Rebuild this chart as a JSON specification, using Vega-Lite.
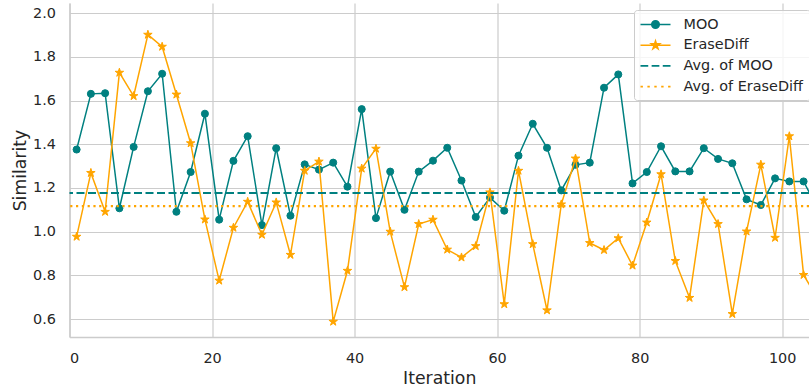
{
  "$schema": "https://vega.github.io/schema/vega-lite/v6.json",
  "width": 739.5,
  "height": 334,
  "autosize": {"type": "none"},
  "padding": {"left": 69.5, "top": 3, "right": 0, "bottom": 52},
  "background": "white",
  "datasets": {
    "main": [
      {"it": 1, "moo": 1.376, "ed": 0.977},
      {"it": 3, "moo": 1.631, "ed": 1.269},
      {"it": 5, "moo": 1.634, "ed": 1.091},
      {"it": 7, "moo": 1.107, "ed": 1.728},
      {"it": 9, "moo": 1.388, "ed": 1.621},
      {"it": 11, "moo": 1.643, "ed": 1.902},
      {"it": 13, "moo": 1.723, "ed": 1.847},
      {"it": 15, "moo": 1.091, "ed": 1.628},
      {"it": 17, "moo": 1.273, "ed": 1.405},
      {"it": 19, "moo": 1.540, "ed": 1.056},
      {"it": 21, "moo": 1.055, "ed": 0.776},
      {"it": 23, "moo": 1.324, "ed": 1.018},
      {"it": 25, "moo": 1.437, "ed": 1.137},
      {"it": 27, "moo": 1.030, "ed": 0.986},
      {"it": 29, "moo": 1.382, "ed": 1.134},
      {"it": 31, "moo": 1.073, "ed": 0.894},
      {"it": 33, "moo": 1.308, "ed": 1.279},
      {"it": 35, "moo": 1.284, "ed": 1.321},
      {"it": 37, "moo": 1.316, "ed": 0.588},
      {"it": 39, "moo": 1.206, "ed": 0.821},
      {"it": 41, "moo": 1.561, "ed": 1.289},
      {"it": 43, "moo": 1.062, "ed": 1.380},
      {"it": 45, "moo": 1.275, "ed": 1.000},
      {"it": 47, "moo": 1.100, "ed": 0.746},
      {"it": 49, "moo": 1.275, "ed": 1.035},
      {"it": 51, "moo": 1.325, "ed": 1.055},
      {"it": 53, "moo": 1.384, "ed": 0.918},
      {"it": 55, "moo": 1.234, "ed": 0.882},
      {"it": 57, "moo": 1.067, "ed": 0.934},
      {"it": 59, "moo": 1.156, "ed": 1.180},
      {"it": 61, "moo": 1.096, "ed": 0.668},
      {"it": 63, "moo": 1.348, "ed": 1.279},
      {"it": 65, "moo": 1.494, "ed": 0.943},
      {"it": 67, "moo": 1.384, "ed": 0.640},
      {"it": 69, "moo": 1.189, "ed": 1.125},
      {"it": 71, "moo": 1.306, "ed": 1.335},
      {"it": 73, "moo": 1.316, "ed": 0.948},
      {"it": 75, "moo": 1.659, "ed": 0.916},
      {"it": 77, "moo": 1.720, "ed": 0.970},
      {"it": 79, "moo": 1.221, "ed": 0.845},
      {"it": 81, "moo": 1.273, "ed": 1.042},
      {"it": 83, "moo": 1.391, "ed": 1.263},
      {"it": 85, "moo": 1.276, "ed": 0.866},
      {"it": 87, "moo": 1.276, "ed": 0.697},
      {"it": 89, "moo": 1.382, "ed": 1.143},
      {"it": 91, "moo": 1.333, "ed": 1.035},
      {"it": 93, "moo": 1.313, "ed": 0.623},
      {"it": 95, "moo": 1.148, "ed": 1.001},
      {"it": 97, "moo": 1.122, "ed": 1.307},
      {"it": 99, "moo": 1.244, "ed": 0.972},
      {"it": 101, "moo": 1.230, "ed": 1.437},
      {"it": 103, "moo": 1.230, "ed": 0.802},
      {"it": 105, "moo": 1.105, "ed": 0.693}
    ],
    "avgmoo": [{"avg": 1.177}],
    "avged": [{"avg": 1.117}],
    "legend": [
      {"series": "MOO"},
      {"series": "EraseDiff"},
      {"series": "Avg. of MOO"},
      {"series": "Avg. of EraseDiff"}
    ]
  },
  "layer": [
    {
      "data": {"name": "main"},
      "mark": {"type": "line", "color": "#008080", "strokeWidth": 1.5, "clip": true},
      "encoding": {
        "x": {"field": "it", "type": "quantitative", "title": "Iteration",
              "scale": {"domain": [0, 103.76], "nice": false, "zero": false},
              "axis": {"values": [0, 20, 40, 60, 80, 100], "labelPadding": 14, "titlePadding": 5}},
        "y": {"field": "moo", "type": "quantitative", "title": "Similarity",
              "scale": {"domain": [0.5176, 2.047], "nice": false, "zero": false},
              "axis": {"values": [0.6, 0.8, 1.0, 1.2, 1.4, 1.6, 1.8, 2.0], "format": ".1f", "labelPadding": 14, "titlePadding": 3}}
      }
    },
    {
      "data": {"name": "main"},
      "mark": {"type": "point", "shape": "circle", "filled": true, "color": "#008080", "stroke": "#008080", "strokeWidth": 1, "size": 50, "opacity": 1, "clip": true},
      "encoding": {
        "x": {"field": "it", "type": "quantitative", "title": "Iteration"},
        "y": {"field": "moo", "type": "quantitative", "title": "Similarity"}
      }
    },
    {
      "data": {"name": "main"},
      "mark": {"type": "line", "color": "#FFA500", "strokeWidth": 1.5, "clip": true},
      "encoding": {
        "x": {"field": "it", "type": "quantitative", "title": "Iteration"},
        "y": {"field": "ed", "type": "quantitative", "title": "Similarity"}
      }
    },
    {
      "data": {"name": "main"},
      "mark": {"type": "point", "shape": "M0,-1L0.2245,-0.309L0.951,-0.309L0.363,0.118L0.588,0.809L0,0.382L-0.588,0.809L-0.363,0.118L-0.951,-0.309L-0.2245,-0.309Z", "filled": true, "color": "#FFA500", "stroke": "#FFA500", "strokeWidth": 1, "size": 80, "opacity": 1, "clip": true},
      "encoding": {
        "x": {"field": "it", "type": "quantitative", "title": "Iteration"},
        "y": {"field": "ed", "type": "quantitative", "title": "Similarity"}
      }
    },
    {
      "data": {"name": "avgmoo"},
      "mark": {"type": "rule", "color": "#008080", "strokeWidth": 2.2, "strokeDash": [8, 3.5]},
      "encoding": {
        "y": {"field": "avg", "type": "quantitative", "title": "Similarity"}
      }
    },
    {
      "data": {"name": "avged"},
      "mark": {"type": "rule", "color": "#FFA500", "strokeWidth": 2.2, "strokeDash": [2.2, 3.6]},
      "encoding": {
        "y": {"field": "avg", "type": "quantitative", "title": "Similarity"}
      }
    },
    {
      "data": {"name": "legend"},
      "mark": {"type": "point", "filled": true, "opacity": 0},
      "encoding": {
        "color": {
          "field": "series", "type": "nominal",
          "scale": {"domain": ["MOO", "EraseDiff", "Avg. of MOO", "Avg. of EraseDiff"],
                    "range": ["#008080", "#FFA500", "#008080", "#FFA500"]},
          "legend": {
            "title": null,
            "orient": "none",
            "legendX": 564.5,
            "legendY": 7,
            "symbolOpacity": 1,
            "symbolSize": 196,
            "symbolOffset": 7,
            "symbolStrokeWidth": 1.6,
            "labelOffset": 20,
            "rowPadding": 5.7,
            "padding": 6.5,
            "fillColor": "rgba(255,255,255,0.8)",
            "strokeColor": "#cccccc",
            "cornerRadius": 3,
            "encode": {"symbols": {"update": {"stroke": {"scale": "color", "field": "value"}}}}
          }
        },
        "shape": {
          "field": "series", "type": "nominal",
          "scale": {"domain": ["MOO", "EraseDiff", "Avg. of MOO", "Avg. of EraseDiff"],
                    "range": [
                      "M-2.143,0H2.143M-0.536,0A0.536,0.536,0,1,1,0.536,0A0.536,0.536,0,1,1,-0.536,0Z",
                      "M-2.143,0H2.143M0,-0.6L0.1348,-0.1854L0.5706,-0.1854L0.2179,0.0707L0.3527,0.4854L0,0.2293L-0.3527,0.4854L-0.2179,0.0707L-0.5706,-0.1854L-0.1348,-0.1854Z",
                      "M-2.143,0H-1.037M-0.553,0H0.553M1.037,0H2.143",
                      "M-2.143,0H-1.8M-1.157,0H-0.814M-0.171,0H0.171M0.814,0H1.157M1.8,0H2.143"
                    ]},
          "legend": {"title": null}
        }
      }
    }
  ],
  "config": {
    "view": {"stroke": null},
    "font": "DejaVu Sans",
    "axis": {
      "domainColor": "#cccccc",
      "domainWidth": 1.5,
      "gridColor": "#cccccc",
      "gridWidth": 1.2,
      "ticks": false,
      "tickSize": 0,
      "labelFont": "DejaVu Sans",
      "labelFontSize": 14.4,
      "labelColor": "#262626",
      "titleFont": "DejaVu Sans",
      "titleFontSize": 17.3,
      "titleFontWeight": "normal",
      "titleColor": "#262626"
    },
    "legend": {
      "labelFont": "DejaVu Sans",
      "labelFontSize": 14.4,
      "labelColor": "#262626",
      "labelLimit": 300
    }
  }
}
